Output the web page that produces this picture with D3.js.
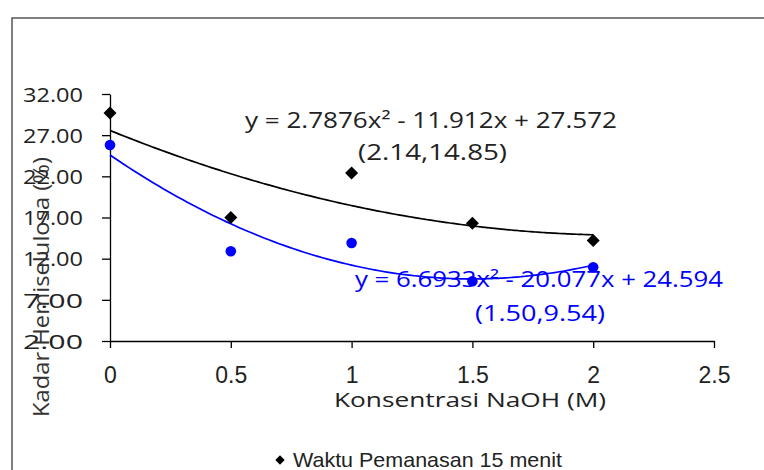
<!DOCTYPE html>
<html>
<head>
<meta charset="utf-8">
<script src="https://cdn.jsdelivr.net/npm/d3@7"></script>
<style>
  body { margin: 0; background: #fff; }
  text { font-family: "Open Sans", sans-serif; }
</style>
</head>
<body>
<div id="chart"></div>
<script>
// ukuran gambar
const W = 764;
const H = 470;

// data
const konsentrasi = [0, 0.5, 1, 1.5, 2];
const kadar15 = [29.7, 17.0, 22.4, 16.3, 14.2];
const kadar30 = [25.8, 12.9, 13.9, 9.25, 10.95];
const trend15 = [2.7876, -11.912, 27.572];
const trend30 = [6.6933, -20.077, 24.594];
const label15 = ["y = 2.7876x² - 11.912x + 27.572", "(2.14,14.85)"];
const label30 = ["y = 6.6933x² - 20.077x + 24.594", "(1.50,9.54)"];
const xTicks = [0, 0.5, 1, 1.5, 2, 2.5];
const yTicks = [2, 7, 12, 17, 22, 27, 32];
const legendText = "Waktu Pemanasan 15 menit";

const svg = d3.select("#chart").append("svg")
  .attr("width", W)
  .attr("height", H);

// bingkai
svg.append("rect")
  .attr("x", 12).attr("y", 18)
  .attr("width", W).attr("height", H)
  .attr("fill", "none")
  .attr("stroke", "#555")
  .attr("stroke-width", 1.5);

const x = d3.scaleLinear().domain([0, 2.5]).range([110, 714]);
const y = d3.scaleLinear().domain([2, 32]).range([341, 94]);

// sumbu x
const gx = svg.append("g")
  .attr("transform", `translate(0,${y(2)})`)
  .call(d3.axisBottom(x).tickValues(xTicks).tickSize(7).tickSizeOuter(0).tickFormat(d3.format("")));
gx.select(".domain").attr("stroke", "#000").attr("stroke-width", 1.3);
gx.selectAll(".tick line").attr("stroke", "#000").attr("stroke-width", 1.3);
gx.selectAll(".tick text")
  .attr("y", 0).attr("dy", 0)
  .attr("transform", "translate(0,42)")
  .attr("fill", "#222")
  .style("font-family", "'Liberation Sans Narrow', sans-serif")
  .style("font-size", "23px");

// sumbu y
const gy = svg.append("g")
  .attr("transform", `translate(${x(0)},0)`)
  .call(d3.axisLeft(y).tickValues(yTicks).tickSize(8).tickSizeOuter(0).tickFormat(d3.format(".2f")));
gy.select(".domain").attr("stroke", "#000").attr("stroke-width", 1.3);
gy.selectAll(".tick line").attr("stroke", "#000").attr("stroke-width", 1.3);
gy.selectAll(".tick text")
  .attr("x", -27)
  .attr("dy", "0.36em")
  .attr("fill", "#222")
  .attr("textLength", 60)
  .attr("lengthAdjust", "spacingAndGlyphs")
  .style("font-size", "20px");

// judul sumbu
svg.append("text")
  .attr("x", 470).attr("y", 407)
  .attr("text-anchor", "middle")
  .attr("fill", "#222")
  .attr("textLength", 272)
  .attr("lengthAdjust", "spacingAndGlyphs")
  .style("font-size", "20px")
  .text("Konsentrasi NaOH (M)");

svg.append("text")
  .attr("transform", "translate(49,287) rotate(-90)")
  .attr("text-anchor", "middle")
  .attr("fill", "#333")
  .attr("textLength", 260)
  .attr("lengthAdjust", "spacingAndGlyphs")
  .style("font-size", "21px")
  .text("Kadar Hemiselulosa (%)");

// garis trend
const poly = c => v => c[0] * v * v + c[1] * v + c[2];
const xs = d3.range(0, 2.0001, 0.02);
const line = d3.line().x(d => x(d[0])).y(d => y(d[1])).curve(d3.curveMonotoneX);

[[trend15, "#000"], [trend30, "#0000ff"]].forEach(([c, col]) => {
  const f = poly(c);
  svg.append("path")
    .datum(xs.map(v => [v, f(v)]))
    .attr("d", line)
    .attr("fill", "none")
    .attr("stroke", col)
    .attr("stroke-width", 1.7);
});

// titik data
const pts15 = konsentrasi.map((k, i) => [k, kadar15[i]]);
const pts30 = konsentrasi.map((k, i) => [k, kadar30[i]]);

svg.selectAll(".dia")
  .data(pts15)
  .join("path")
  .attr("class", "dia")
  .attr("transform", d => `translate(${x(d[0])},${y(d[1])}) rotate(45)`)
  .attr("d", "M-4.6,-4.6H4.6V4.6H-4.6Z")
  .attr("fill", "#000");

svg.selectAll(".dot")
  .data(pts30)
  .join("circle")
  .attr("class", "dot")
  .attr("cx", d => x(d[0]))
  .attr("cy", d => y(d[1]))
  .attr("r", 5.3)
  .attr("fill", "#0000ff");

// label persamaan
const addLabel = (t, px, py, len, col) => svg.append("text")
  .attr("x", px).attr("y", py)
  .attr("fill", col)
  .attr("textLength", len)
  .attr("lengthAdjust", "spacingAndGlyphs")
  .style("font-size", "21px")
  .text(t);

addLabel(label15[0], 245, 128, 372, "#222");
addLabel(label15[1], 358, 160, 149, "#222");
addLabel(label30[0], 355, 287, 368, "#0000ff");
addLabel(label30[1], 475, 321, 130, "#0000ff");

// legenda
svg.append("path")
  .attr("transform", "translate(280,460) rotate(45)")
  .attr("d", "M-3.3,-3.3H3.3V3.3H-3.3Z")
  .attr("fill", "#000");
svg.append("text")
  .attr("x", 293).attr("y", 467)
  .attr("fill", "#222")
  .attr("textLength", 269)
  .attr("lengthAdjust", "spacingAndGlyphs")
  .style("font-family", "'Liberation Sans Narrow', sans-serif")
  .style("font-size", "21px")
  .text(legendText);
</script>
</body>
</html>
